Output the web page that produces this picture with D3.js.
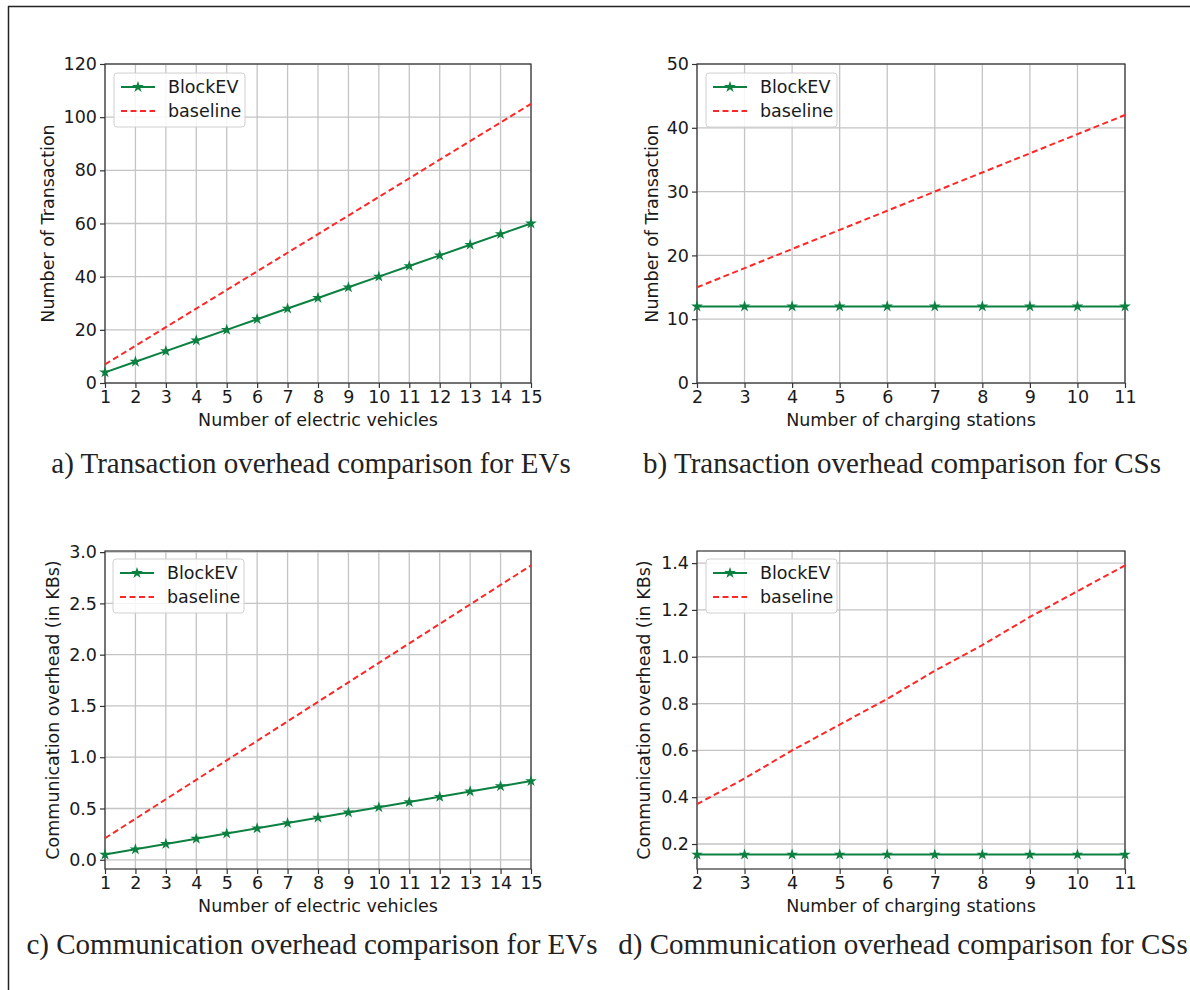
<!DOCTYPE html>
<html>
<head>
<meta charset="utf-8">
<script src="https://cdn.jsdelivr.net/npm/d3@7"></script>
<style>
  html, body { margin: 0; padding: 0; background: #fff; }
  svg { display: block; }
  .tick text { font-family: "DejaVu Sans", sans-serif; font-size: 17.5px; fill: #1a1a1a; }
  .axis-label { font-family: "DejaVu Sans", sans-serif; font-size: 17.5px; fill: #1a1a1a; }
  .legend-text { font-family: "DejaVu Sans", sans-serif; font-size: 17.5px; fill: #1a1a1a; }
  .caption { font-family: "Liberation Serif", "Times New Roman", serif; font-size: 29px; fill: #222; }
</style>
</head>
<body>
<script>
// ---- data ----
const evCounts = [1, 2, 3, 4, 5, 6, 7, 8, 9, 10, 11, 12, 13, 14, 15];
const csCounts = [2, 3, 4, 5, 6, 7, 8, 9, 10, 11];

// transactions per number of EVs
const txEvBlockEV  = [4, 8, 12, 16, 20, 24, 28, 32, 36, 40, 44, 48, 52, 56, 60];
const txEvBaseline = [7, 14, 21, 28, 35, 42, 49, 56, 63, 70, 77, 84, 91, 98, 105];

// transactions per number of CSs
const txCsBlockEV  = [12, 12, 12, 12, 12, 12, 12, 12, 12, 12];
const txCsBaseline = [15, 18, 21, 24, 27, 30, 33, 36, 39, 42];

// communication overhead (KB) per number of EVs
const commEvBlockEV  = [0.051, 0.102, 0.154, 0.205, 0.256, 0.307, 0.358, 0.410, 0.461, 0.512, 0.563, 0.614, 0.666, 0.717, 0.768];
const commEvBaseline = [0.21, 0.40, 0.59, 0.78, 0.97, 1.16, 1.35, 1.54, 1.73, 1.92, 2.11, 2.30, 2.49, 2.68, 2.87];

// communication overhead (KB) per number of CSs
const commCsBlockEV  = [0.155, 0.155, 0.155, 0.155, 0.155, 0.155, 0.155, 0.155, 0.155, 0.155];
const commCsBaseline = [0.37, 0.48, 0.60, 0.71, 0.82, 0.94, 1.05, 1.17, 1.28, 1.39];

const seriesNames = ["BlockEV", "baseline"];

const yTicksTxEv   = [0, 20, 40, 60, 80, 100, 120];
const yTicksTxCs   = [0, 10, 20, 30, 40, 50];
const yTicksCommEv = [0.0, 0.5, 1.0, 1.5, 2.0, 2.5, 3.0];
const yTicksCommCs = [0.2, 0.4, 0.6, 0.8, 1.0, 1.2, 1.4];

const xLabelEv = "Number of electric vehicles";
const xLabelCs = "Number of charging stations";
const yLabelTx = "Number of Transaction";
const yLabelComm = "Communication overhead (in KBs)";

const captions = [
  "a) Transaction overhead comparison for EVs",
  "b) Transaction overhead comparison for CSs",
  "c) Communication overhead comparison for EVs",
  "d) Communication overhead comparison for CSs"
];

// ---- styling ----
const GREEN = "#0b8040";
const RED = "#ff2626";

const W = 1190, H = 990;
const svg = d3.select("body").append("svg").attr("width", W).attr("height", H);

// figure frame (top and left edges)
svg.append("line").attr("x1", 8).attr("x2", W).attr("y1", 6.5).attr("y2", 6.5)
  .attr("stroke", "#222").attr("stroke-width", 1.5);
svg.append("line").attr("x1", 8.5).attr("x2", 8.5).attr("y1", 6).attr("y2", H)
  .attr("stroke", "#222").attr("stroke-width", 1.5);

// matplotlib-like autoscale margin
function padded(vals, frac) {
  const lo = d3.min(vals), hi = d3.max(vals), r = hi - lo;
  return [lo - r * frac, hi + r * frac];
}

const panels = [
  { box: [105, 531, 64, 383], x: evCounts, a: txEvBlockEV, b: txEvBaseline,
    xDomain: [1, 15], yDomain: [0, 120], yTicks: yTicksTxEv, fmt: d3.format("d"),
    xLabel: xLabelEv, yLabel: yLabelTx, yLabelX: 48, caption: captions[0], capX: 311, capY: 473,
    legend: [114, 73] },
  { box: [697, 1125, 64, 383], x: csCounts, a: txCsBlockEV, b: txCsBaseline,
    xDomain: [2, 11], yDomain: [0, 50], yTicks: yTicksTxCs, fmt: d3.format("d"),
    xLabel: xLabelCs, yLabel: yLabelTx, yLabelX: 652, caption: captions[1], capX: 902, capY: 473,
    legend: [706, 73] },
  { box: [105, 531, 551, 869], x: evCounts, a: commEvBlockEV, b: commEvBaseline,
    xDomain: [1, 15], yDomain: padded(commEvBlockEV.concat(commEvBaseline), 0.05), yTicks: yTicksCommEv, fmt: d3.format(".1f"),
    xLabel: xLabelEv, yLabel: yLabelComm, yLabelX: 53, caption: captions[2], capX: 312, capY: 954,
    legend: [113, 559] },
  { box: [697, 1125, 551, 869], x: csCounts, a: commCsBlockEV, b: commCsBaseline,
    xDomain: [2, 11], yDomain: padded(commCsBlockEV.concat(commCsBaseline), 0.05), yTicks: yTicksCommCs, fmt: d3.format(".1f"),
    xLabel: xLabelCs, yLabel: yLabelComm, yLabelX: 644, caption: captions[3], capX: 903, capY: 954,
    legend: [706, 559] }
];

const star = d3.symbol().type(d3.symbolStar).size(42);

panels.forEach(p => {
  const [x0, x1, y0, y1] = p.box;
  const xs = d3.scaleLinear().domain(p.xDomain).range([x0, x1]);
  const ys = d3.scaleLinear().domain(p.yDomain).range([y1, y0]);
  const g = svg.append("g");

  // grid
  g.append("g").selectAll("line").data(p.x).join("line")
    .attr("x1", d => xs(d)).attr("x2", d => xs(d)).attr("y1", y0).attr("y2", y1)
    .attr("stroke", "#c4c4c4").attr("stroke-width", 1.3);
  g.append("g").selectAll("line").data(p.yTicks).join("line")
    .attr("x1", x0).attr("x2", x1).attr("y1", d => ys(d)).attr("y2", d => ys(d))
    .attr("stroke", "#c4c4c4").attr("stroke-width", 1.3);

  // axes
  const xAxis = d3.axisBottom(xs).tickValues(p.x).tickFormat(d3.format("d")).tickSize(5).tickPadding(3);
  const yAxis = d3.axisLeft(ys).tickValues(p.yTicks).tickFormat(p.fmt).tickSize(5).tickPadding(3);
  const gx = g.append("g").attr("transform", `translate(0,${y1})`).call(xAxis);
  const gy = g.append("g").attr("transform", `translate(${x0},0)`).call(yAxis);
  [gx, gy].forEach(ax => {
    ax.select(".domain").remove();
    ax.selectAll(".tick line").attr("stroke", "#333").attr("stroke-width", 1.2);
  });

  // spines
  g.append("rect").attr("x", x0).attr("y", y0).attr("width", x1 - x0).attr("height", y1 - y0)
    .attr("fill", "none").attr("stroke", "#333").attr("stroke-width", 1.2);

  // series
  const line = d3.line().x((d, i) => xs(p.x[i])).y(d => ys(d));
  g.append("path").datum(p.b).attr("d", line).attr("fill", "none")
    .attr("stroke", RED).attr("stroke-width", 2).attr("stroke-dasharray", "6,3.5");
  g.append("path").datum(p.a).attr("d", line).attr("fill", "none")
    .attr("stroke", GREEN).attr("stroke-width", 2);
  g.append("g").selectAll("path").data(p.a).join("path")
    .attr("d", star).attr("fill", GREEN)
    .attr("transform", (d, i) => `translate(${xs(p.x[i])},${ys(d)})`);

  // axis labels
  g.append("text").attr("class", "axis-label").attr("x", (x0 + x1) / 2).attr("y", y1 + 43)
    .attr("text-anchor", "middle").text(p.xLabel);
  g.append("text").attr("class", "axis-label")
    .attr("transform", `translate(${p.yLabelX},${(y0 + y1) / 2}) rotate(-90)`)
    .attr("text-anchor", "middle").attr("dominant-baseline", "central").text(p.yLabel);

  // legend
  const [lx, ly] = p.legend;
  const lg = g.append("g").attr("transform", `translate(${lx},${ly})`);
  lg.append("rect").attr("width", 131).attr("height", 54).attr("rx", 3)
    .attr("fill", "#fff").attr("fill-opacity", 0.85).attr("stroke", "#d0d0d0").attr("stroke-width", 1);
  lg.append("line").attr("x1", 7).attr("x2", 41).attr("y1", 14).attr("y2", 14)
    .attr("stroke", GREEN).attr("stroke-width", 2);
  lg.append("path").attr("d", star).attr("fill", GREEN).attr("transform", "translate(24,14)");
  lg.append("line").attr("x1", 7).attr("x2", 41).attr("y1", 38).attr("y2", 38)
    .attr("stroke", RED).attr("stroke-width", 2).attr("stroke-dasharray", "6,3.5");
  lg.selectAll("text").data(seriesNames).join("text").attr("class", "legend-text")
    .attr("x", 54).attr("y", (d, i) => 14 + i * 24).attr("dominant-baseline", "central").text(d => d);

  // caption
  svg.append("text").attr("class", "caption").attr("x", p.capX).attr("y", p.capY)
    .attr("text-anchor", "middle").text(p.caption);
});
</script>
</body>
</html>
